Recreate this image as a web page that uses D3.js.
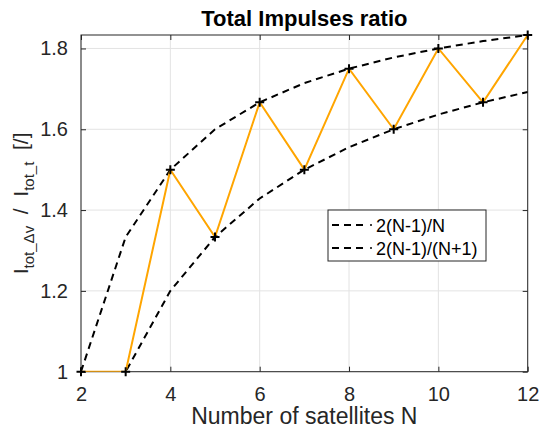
<!DOCTYPE html>
<html>
<head>
<meta charset="utf-8">
<script src="https://cdn.jsdelivr.net/npm/d3@7"></script>
<style>
  body { margin: 0; background: #fff; }
  svg { font-family: "Liberation Sans", Arial, Helvetica, sans-serif; }
</style>
</head>
<body>
<svg id="chart" width="539" height="437"></svg>
<script>
// values
const nSat = [2, 3, 4, 5, 6, 7, 8, 9, 10, 11, 12];
const ratio = [1, 1, 1.5, 1.3333, 1.6667, 1.5, 1.75, 1.6, 1.8, 1.6667, 1.8333];
const upper = [1, 1.3333, 1.5, 1.6, 1.6667, 1.7143, 1.75, 1.7778, 1.8, 1.8182, 1.8333];
const lower = [0.6667, 1, 1.2, 1.3333, 1.4286, 1.5, 1.5556, 1.6, 1.6364, 1.6667, 1.6923];
const legendNames = ["2(N-1)/N", "2(N-1)/(N+1)"];
const xTicks = [2, 4, 6, 8, 10, 12];
const yTicks = [1, 1.2, 1.4, 1.6, 1.8];

const svg = d3.select("#chart");
const margin = {left: 81, top: 35, right: 539 - 527.7, bottom: 437 - 371.7};
const w = 539 - margin.left - margin.right,
      h = 437 - margin.top - margin.bottom;

const x = d3.scaleLinear().domain([2, 12]).range([0, w]);
const y = d3.scaleLinear().domain([1, 1.8333]).range([h, 0]);

const g = svg.append("g").attr("transform", "translate(" + margin.left + "," + margin.top + ")");

svg.append("defs").append("clipPath").attr("id", "clip")
  .append("rect").attr("width", w).attr("height", h);

// grid
g.append("g").selectAll("line").data(xTicks).join("line")
  .attr("x1", d => x(d)).attr("x2", d => x(d)).attr("y1", 0).attr("y2", h)
  .attr("stroke", "#e3e3e3").attr("stroke-width", 1);
g.append("g").selectAll("line").data(yTicks).join("line")
  .attr("y1", d => y(d)).attr("y2", d => y(d)).attr("x1", 0).attr("x2", w)
  .attr("stroke", "#e3e3e3").attr("stroke-width", 1);

// axes, ticks inward on all four sides
const tickLen = 5;
const axStyle = sel => {
  sel.select(".domain").remove();
  sel.selectAll(".tick line").attr("stroke", "#262626");
  sel.selectAll(".tick text").attr("fill", "#262626").style("font-size", "20px");
};
g.append("g").attr("transform", "translate(0," + h + ")")
  .call(d3.axisBottom(x).tickValues(xTicks).tickSize(-tickLen).tickPadding(15))
  .call(axStyle);
g.append("g")
  .call(d3.axisTop(x).tickValues(xTicks).tickSize(-tickLen).tickFormat(""))
  .call(axStyle);
g.append("g")
  .call(d3.axisLeft(y).tickValues(yTicks).tickSize(-tickLen).tickPadding(13).tickFormat(d3.format("~g")))
  .call(axStyle);
g.append("g").attr("transform", "translate(" + w + ",0)")
  .call(d3.axisRight(y).tickValues(yTicks).tickSize(-tickLen).tickFormat(""))
  .call(axStyle);
g.selectAll(".tick text").style("font-family", "inherit");

g.append("rect").attr("width", w).attr("height", h)
  .attr("fill", "none").attr("stroke", "#262626").attr("stroke-width", 1);

// lines
const line = vals => d3.line().x((d, i) => x(nSat[i])).y(d => y(d))(vals);
const plot = g.append("g").attr("clip-path", "url(#clip)");
plot.append("path").attr("d", line(upper))
  .attr("fill", "none").attr("stroke", "#000").attr("stroke-width", 2)
  .attr("stroke-dasharray", "7,5");
plot.append("path").attr("d", line(lower))
  .attr("fill", "none").attr("stroke", "#000").attr("stroke-width", 2)
  .attr("stroke-dasharray", "7,5");
plot.append("path").attr("d", line(ratio))
  .attr("fill", "none").attr("stroke", "#FFA500").attr("stroke-width", 2);

// + markers
const ms = 4.5;
g.append("g").selectAll("path").data(ratio).join("path")
  .attr("d", (d, i) => {
    const px = x(nSat[i]), py = y(d);
    return "M" + (px - ms) + "," + py + "H" + (px + ms) + "M" + px + "," + (py - ms) + "V" + (py + ms);
  })
  .attr("stroke", "#000").attr("stroke-width", 2);

// legend
const lg = svg.append("g").attr("transform", "translate(328,210)");
lg.append("rect").attr("width", 158).attr("height", 51)
  .attr("fill", "#fff").attr("stroke", "#262626").attr("stroke-width", 1);
legendNames.forEach((name, i) => {
  const ly = 15 + i * 23;
  lg.append("line").attr("x1", 4).attr("x2", 36).attr("y1", ly).attr("y2", ly)
    .attr("stroke", "#000").attr("stroke-width", 2).attr("stroke-dasharray", "7,5");
  lg.append("circle").attr("cx", 43).attr("cy", ly).attr("r", 1).attr("fill", "#000");
  lg.append("text").attr("x", 48).attr("y", ly + 6.5)
    .style("font-size", "18px").attr("fill", "#000").text(name);
});

// title
svg.append("text").attr("x", margin.left + w / 2).attr("y", 26)
  .attr("text-anchor", "middle").style("font-size", "22px").style("font-weight", "bold")
  .attr("fill", "#000").text("Total Impulses ratio");

// x label
svg.append("text").attr("x", margin.left + w / 2).attr("y", 424)
  .attr("text-anchor", "middle").style("font-size", "23px")
  .attr("fill", "#262626").text("Number of satellites N");

// y label with subscripts
const yl = svg.append("text")
  .attr("transform", "translate(28," + (margin.top + h / 2) + ") rotate(-90)")
  .attr("text-anchor", "middle").style("font-size", "21px").attr("fill", "#262626");
yl.append("tspan").text("I");
yl.append("tspan").attr("dy", 6).style("font-size", "15px").text("tot_Δv");
yl.append("tspan").attr("dy", -6).text("\u00a0\u00a0/\u00a0\u00a0I");
yl.append("tspan").attr("dy", 6).style("font-size", "15px").text("tot_t");
yl.append("tspan").attr("dy", -6).text("\u00a0\u00a0[/]");
</script>
</body>
</html>
